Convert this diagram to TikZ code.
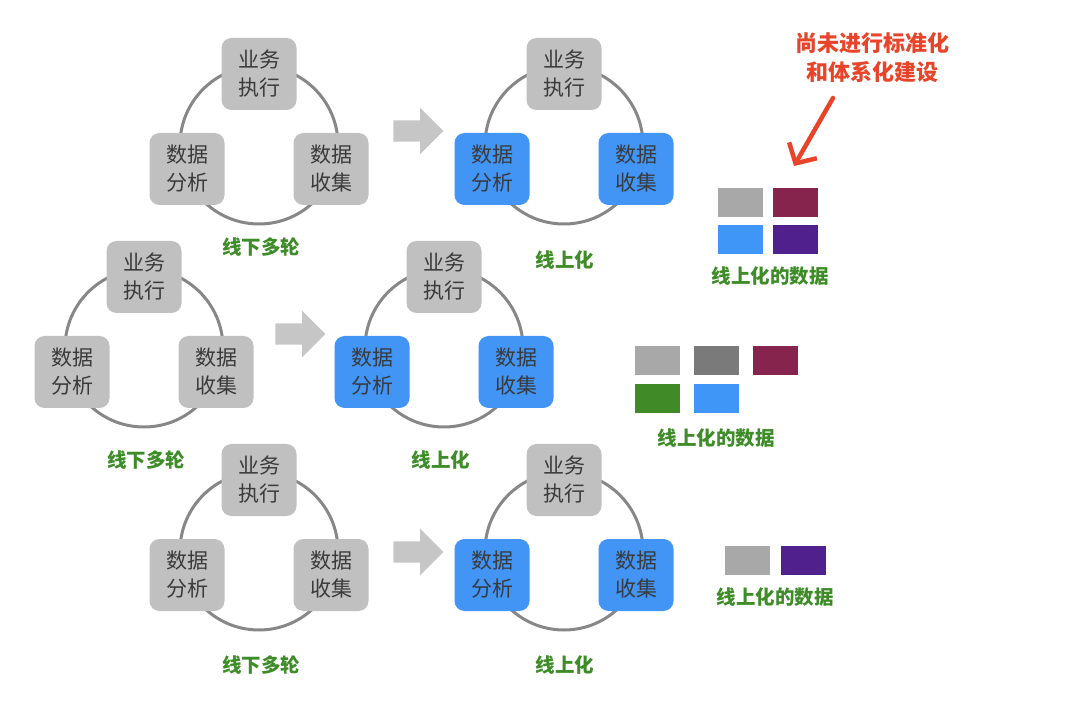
\documentclass[tikz,border=0pt]{standalone}
\usepackage{fontspec}
\setmainfont{Noto Sans CJK SC}
\usetikzlibrary{arrows.meta,shapes.arrows}
\definecolor{boxgray}{RGB}{192,192,192}
\definecolor{onblue}{RGB}{66,148,245}
\definecolor{txtgray}{RGB}{58,58,58}
\definecolor{ringgray}{RGB}{135,135,135}
\definecolor{lblgreen}{RGB}{62,140,40}
\definecolor{notered}{RGB}{232,68,42}
\definecolor{sqgray}{RGB}{168,168,168}
\definecolor{sqdark}{RGB}{122,122,122}
\definecolor{sqmaroon}{RGB}{134,36,78}
\definecolor{sqpurple}{RGB}{80,32,140}
\definecolor{sqgreen}{RGB}{64,138,40}
\definecolor{sqblue}{RGB}{64,150,247}
\definecolor{fatgray}{RGB}{198,198,198}

\begin{document}
\begin{tikzpicture}[x=1pt, y=-1pt,
  stepbox/.style={rectangle, rounded corners=10pt, fill=boxgray,
                  minimum width=75pt, minimum height=72pt, inner sep=0pt,
                  align=center, text=txtgray,
                  font=\fontsize{21}{28}\selectfont},
  loop/.style={draw=ringgray, line width=3pt},
  lbl/.style={font=\fontsize{19.5}{24}\selectfont\bfseries, text=lblgreen},
  datasq/.style={rectangle, draw=white, thin, minimum width=46pt,
                 minimum height=30pt, inner sep=0pt},
  fatarrow/.style={single arrow, fill=fatgray, inner sep=10.5pt,
                   minimum height=50pt, single arrow head extend=12.5pt,
                   single arrow tip angle=90},
  note/.style={font=\fontsize{22}{29}\selectfont\bfseries, text=notered,
               align=center},
  redarrow/.style={-{Straight Barb[length=15pt, width=32pt]}, notered,
                   line width=4.5pt, line cap=round},
]
\useasboundingbox (0,0) rectangle (1080,711);

% Cycles: centre x / centre y / name / colour of the two lower boxes
\foreach \cx/\cy/\n/\fc in {259/145/a/boxgray, 564/145/b/onblue,
                            144/348/c/boxgray, 444/348/d/onblue,
                            259/551/e/boxgray, 564/551/f/onblue}{
  \draw[loop] (\cx,\cy) circle (79pt);
  \node[stepbox] (run\n) at (\cx,\cy-71) {业务\\执行};
  \node[stepbox, fill=\fc] (ana\n) at (\cx-72,\cy+24) {数据\\分析};
  \node[stepbox, fill=\fc] (col\n) at (\cx+72,\cy+24) {数据\\收集};
}

% Cycle labels
\node[lbl] (offa) at (261,247) {线下多轮};
\node[lbl] (onb)  at (565,260) {线上化};
\node[lbl] (offc) at (146,460) {线下多轮};
\node[lbl] (ond)  at (441,460) {线上化};
\node[lbl] (offe) at (261,665) {线下多轮};
\node[lbl] (onf)  at (565,665) {线上化};

% Block arrows between cycles
\node[fatarrow] (arr1) at (413,131) {};
\node[fatarrow] (arr2) at (295,334) {};
\node[fatarrow] (arr3) at (413,552) {};

% Online data, row 1
\node[datasq, fill=sqgray]   (sq11) at (740,202) {};
\node[datasq, fill=sqmaroon] (sq12) at (795,202) {};
\node[datasq, fill=sqblue]   (sq13) at (740,239) {};
\node[datasq, fill=sqpurple] (sq14) at (795,239) {};
\node[lbl] (data1) at (770,276) {线上化的数据};

% Online data, row 2
\node[datasq, fill=sqgray]   (sq21) at (657,360) {};
\node[datasq, fill=sqdark]   (sq22) at (716,360) {};
\node[datasq, fill=sqmaroon] (sq23) at (775,360) {};
\node[datasq, fill=sqgreen]  (sq24) at (657,398) {};
\node[datasq, fill=sqblue]   (sq25) at (716,398) {};
\node[lbl] (data2) at (716,438) {线上化的数据};

% Online data, row 3
\node[datasq, fill=sqgray]   (sq31) at (747,560) {};
\node[datasq, fill=sqpurple] (sq32) at (803,560) {};
\node[lbl] (data3) at (775,597) {线上化的数据};

% Remark
\node[note] (rem) at (872,58) {尚未进行标准化\\和体系化建设};
\coordinate (rems) at (833,98);
\coordinate (reme) at (794,166);
\draw[redarrow] (rems) -- (reme);

\end{tikzpicture}
\end{document}
